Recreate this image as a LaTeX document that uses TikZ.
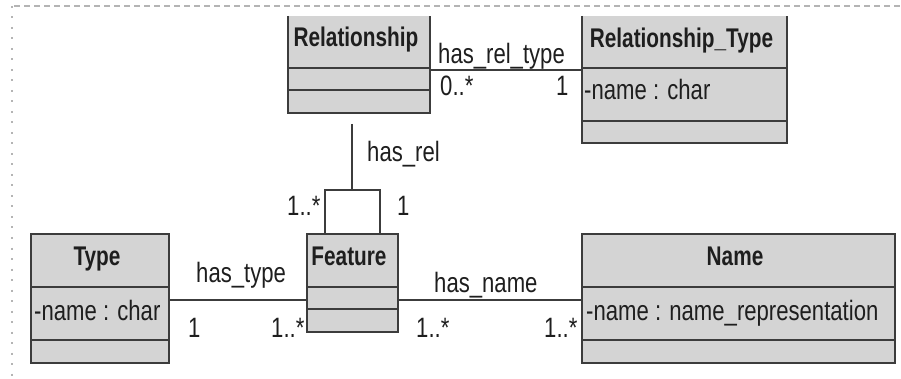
\documentclass[tikz,border=0pt]{standalone}
\usepackage{fontspec}
\setmainfont{Liberation Sans}[FakeStretch=0.79,BoldFeatures={FakeStretch=0.77}]
\definecolor{boxfill}{HTML}{D4D4D4}
\definecolor{boxline}{HTML}{3C3C3C}
\definecolor{txt}{HTML}{1E1E1E}
\definecolor{frameline}{HTML}{B4B4B4}
\begin{document}
\begin{tikzpicture}[x=1pt,y=-1pt,
  classbox/.style={fill=boxfill,draw=none,inner sep=0pt,outer sep=0pt,anchor=north west},
  boxedge/.style={draw=boxline,line width=1.6pt},
  conn/.style={draw=boxline,line width=1.3pt},
  title/.style={inner sep=0pt,anchor=base,text=txt,font=\fontsize{27}{29}\selectfont\bfseries},
  lbl/.style={inner sep=0pt,anchor=base west,text=txt,font=\fontsize{28}{30}\selectfont}]
\useasboundingbox (0,0) rectangle (901,379);
% frame of the sheet
\draw[frameline,line width=1.2pt,dash pattern=on 6pt off 4pt] (14,6) -- (901,6);
\draw[frameline,line width=2pt,dash pattern=on 2pt off 8.5pt] (12,6) -- (12,379);

% Relationship
\node[classbox,minimum width=142pt,minimum height=97pt] (rel) at (288,16) {};
\draw[boxedge] (rel.north west) -- (rel.south west) -- (rel.south east) -- (rel.north east);
\draw[boxedge] (288,68) -- (430,68);
\draw[boxedge] (288,90) -- (430,90);
\node[title] (reltitle) at (356,47) {Relationship};

% Relationship_Type
\node[classbox,minimum width=205pt,minimum height=127pt] (rtype) at (582,16) {};
\draw[boxedge] (rtype.north west) -- (rtype.south west) -- (rtype.south east) -- (rtype.north east);
\draw[boxedge] (582,68) -- (787,68);
\draw[boxedge] (582,121) -- (787,121);
\node[title] (rtypetitle) at (681.5,48) {Relationship\_Type};
\node[lbl] (rtypeattr) at (584,100) {-name : char};

% Type
\node[classbox,draw=boxline,line width=1.6pt,minimum width=138pt,minimum height=129pt] (type) at (31,234) {};
\draw[boxedge] (31,287) -- (169,287);
\draw[boxedge] (31,340) -- (169,340);
\node[title] (typetitle) at (97,265) {Type};
\node[lbl] (typeattr) at (34,320) {-name : char};

% Feature
\node[classbox,draw=boxline,line width=1.6pt,minimum width=91pt,minimum height=98pt] (feat) at (307,234) {};
\draw[boxedge] (307,287) -- (398,287);
\draw[boxedge] (307,309) -- (398,309);
\node[title] (feattitle) at (349,265) {Feature};

% Name
\node[classbox,draw=boxline,line width=1.6pt,minimum width=313pt,minimum height=129pt] (name) at (582,234) {};
\draw[boxedge] (582,287) -- (895,287);
\draw[boxedge] (582,340) -- (895,340);
\node[title] (nametitle) at (735,265) {Name};
\node[lbl] (nameattr) at (586,320) {-name : name\_representation};

% connector levels
\coordinate (ytop) at (0,70);
\coordinate (ylow) at (0,300);
\coordinate (relgap) at (352,124);
\coordinate (loopL) at (325,190);
\coordinate (loopR) at (380,190);
\coordinate (loopM) at (352,190);

% has_rel_type
\draw[conn] (rel.east |- ytop) -- (rtype.west |- ytop);
\node[lbl] (lhrt) at (438,64) {has\_rel\_type};
\node[lbl] (m1) at (440,96) {0..*};
\node[lbl] (m2) at (556,96) {1};

% has_rel (self association of Feature)
\draw[conn] (relgap) -- (loopM);
\draw[conn] (feat.north -| loopL) -- (loopL) -- (loopR) -- (feat.north -| loopR);
\node[lbl] (lhr) at (367,162) {has\_rel};
\node[lbl] (m3) at (287,215) {1..*};
\node[lbl] (m4) at (397,215) {1};

% has_type
\draw[conn] (type.east |- ylow) -- (feat.west |- ylow);
\node[lbl] (lht) at (196,282) {has\_type};
\node[lbl] (m5) at (188,337) {1};
\node[lbl] (m6) at (271,337) {1..*};

% has_name
\draw[conn] (feat.east |- ylow) -- (name.west |- ylow);
\node[lbl] (lhn) at (434,292) {has\_name};
\node[lbl] (m7) at (416,337) {1..*};
\node[lbl] (m8) at (544,337) {1..*};
\end{tikzpicture}
\end{document}
